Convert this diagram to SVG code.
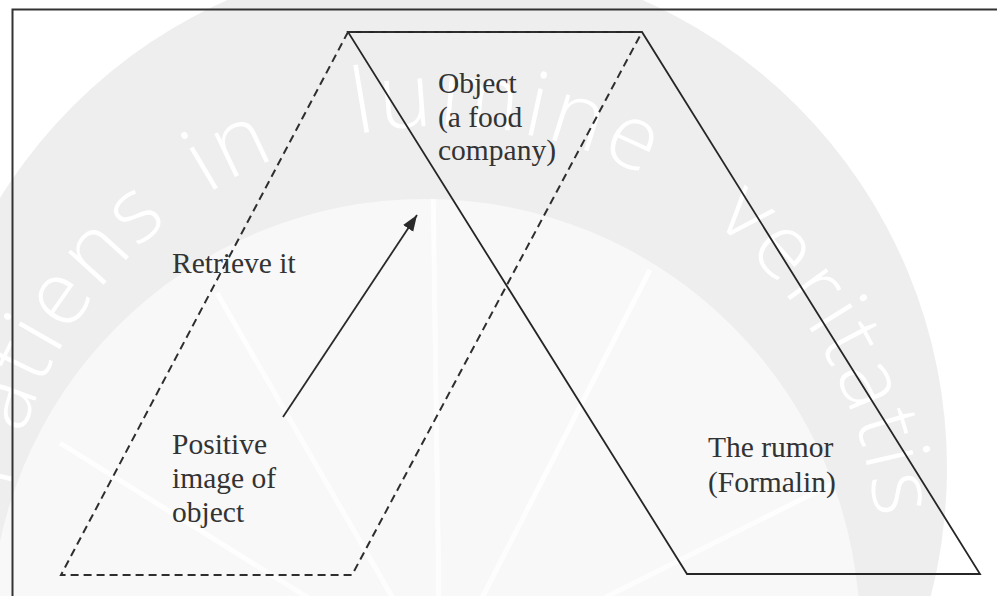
<svg xmlns="http://www.w3.org/2000/svg" width="997" height="596" viewBox="0 0 997 596">
  <style>
    .solid { fill: none; stroke: #262626; stroke-width: 1.8; stroke-linejoin: miter; }
    .dashed { fill: none; stroke: #2e2e2e; stroke-width: 2; stroke-dasharray: 8 5; }
    .frame { fill: none; stroke: #333333; stroke-width: 2; }
    .label { font-family: "Liberation Serif", "Times New Roman", serif; font-size: 29.5px; fill: #333333; }
    .wm { font-family: "Open Sans", "DejaVu Sans", sans-serif; font-size: 90px; font-weight: 300; fill: #ffffff; letter-spacing: 4px; }
    .ray { stroke: #ffffff; stroke-width: 5; opacity: 0.85; }
  </style>
  <defs>
    <marker id="arrowhead" markerUnits="userSpaceOnUse" markerWidth="18" markerHeight="14" refX="16" refY="6" orient="auto">
      <path d="M0,0 L16,6 L0,12 Z" fill="#2a2a2a"/>
    </marker>
    <clipPath id="innerClip">
      <circle cx="425" cy="634" r="435"/>
    </clipPath>
    <path id="wmArc" d="M30.4,712.5 A437,437 0 1 1 871.4,638.9"/>
  </defs>

  <g id="watermark">
    <rect x="0" y="0" width="997" height="596" fill="#ffffff"/>
    <circle cx="435" cy="468" r="512" fill="#eeeeee"/>
    <circle cx="425" cy="634" r="435" fill="#f8f8f8"/>
    <g clip-path="url(#innerClip)">
      <line class="ray" x1="440" y1="680" x2="60" y2="443"/>
      <line class="ray" x1="440" y1="680" x2="217" y2="293"/>
      <line class="ray" x1="440" y1="680" x2="433" y2="180"/>
      <line class="ray" x1="440" y1="680" x2="650" y2="270"/>
      <line class="ray" x1="440" y1="680" x2="860" y2="470"/>
    </g>
    <text class="wm"><textPath href="#wmArc" startOffset="549" text-anchor="end">Patiens</textPath></text>
    <text class="wm"><textPath href="#wmArc" startOffset="633" text-anchor="middle">in</textPath></text>
    <text class="wm"><textPath href="#wmArc" startOffset="904" text-anchor="middle">lumine</textPath></text>
    <text class="wm"><textPath href="#wmArc" startOffset="1308" text-anchor="middle">veritatis</textPath></text>
  </g>

  <g id="frame">
    <polyline class="frame" points="12.5,596 12.5,9.5 997,9.5"/>
  </g>

  <g id="node-rumor-shape">
    <polygon class="solid" points="348,32 642,32 980,574 687,574"/>
  </g>

  <g id="node-image-shape">
    <polygon class="dashed" points="348,32 642,32 352,575 61,575"/>
  </g>

  <g id="node-object">
    <text class="label" x="438" y="93">Object<tspan x="438" dy="33.5">(a food</tspan><tspan x="438" dy="33.5">company)</tspan></text>
  </g>

  <g id="node-retrieve">
    <text class="label" x="172" y="273">Retrieve it</text>
  </g>

  <g id="node-positive">
    <text class="label" x="172" y="454">Positive<tspan x="172" dy="34">image of</tspan><tspan x="172" dy="34">object</tspan></text>
  </g>

  <g id="node-rumor">
    <text class="label" x="708" y="457">The rumor<tspan x="708" dy="35">(Formalin)</tspan></text>
  </g>

  <g id="connectors">
    <line x1="283" y1="417" x2="417" y2="215" stroke="#2a2a2a" stroke-width="1.8" marker-end="url(#arrowhead)"/>
  </g>
</svg>
